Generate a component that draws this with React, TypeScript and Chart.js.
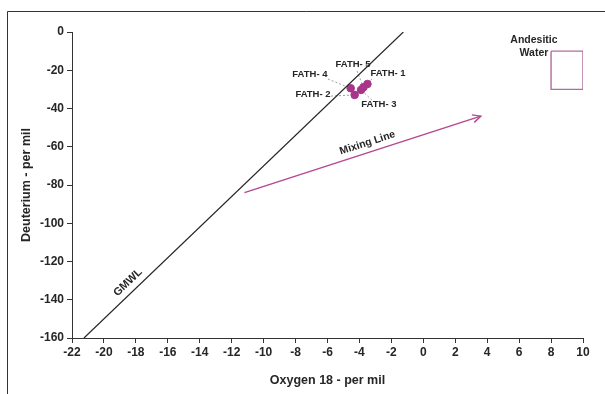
import React, { useEffect, useRef } from 'react';
import { Chart, registerables } from 'chart.js';

Chart.register(...registerables);

// ---- Data ----
const sampleNames = ['FATH- 1', 'FATH- 2', 'FATH- 3', 'FATH- 4', 'FATH- 5'];
const oxygen18 = [-3.5, -4.3, -3.9, -4.55, -3.75];
const deuterium = [-27.2, -32.9, -30.3, -29.4, -28.9];

// Global Meteoric Water Line end points
const gmwlX = [-21.25, -1.25];
const gmwlY = [-160, 0];

// Mixing line end points
const mixingX = [-11.2, 3.6];
const mixingY = [-84, -44];

// Andesitic water box
const andesiticX = [8, 10, 10, 8, 8];
const andesiticY = [-10, -10, -30, -30, -10];

// Axis ranges / ticks
const xMin = -22;
const xMax = 10;
const xStep = 2;
const yMin = -160;
const yMax = 0;
const yStep = 20;

// Label anchors (data coordinates) for sample annotations
const labelX = [-2.21, -6.91, -2.78, -7.1, -4.4];
const labelY = [-21.4, -32.4, -37.6, -22.0, -16.7];
const leaderX = [-3.22, -5.78, -3.22, -5.97, -4.15];
const leaderY = [-24.6, -33.5, -35.6, -24.6, -20.4];

const TEXT = '#262626';
const FONT = '"Liberation Sans", Arial, sans-serif';

const toPts = (xs: number[], ys: number[]) => xs.map((x, i) => ({ x, y: ys[i] }));

const annotationPlugin = {
  id: 'annotations',
  beforeDatasetsDraw(chart: any) {
    const { ctx, scales } = chart;
    const xs = scales.x;
    const ys = scales.y;
    ctx.save();
    ctx.strokeStyle = '#a0a0a0';
    ctx.lineWidth = 1;
    ctx.setLineDash([2, 2]);
    for (let i = 0; i < sampleNames.length; i++) {
      ctx.beginPath();
      ctx.moveTo(xs.getPixelForValue(leaderX[i]), ys.getPixelForValue(leaderY[i]));
      ctx.lineTo(xs.getPixelForValue(oxygen18[i]), ys.getPixelForValue(deuterium[i]));
      ctx.stroke();
    }
    ctx.restore();
  },
  afterDraw(chart: any) {
    const { ctx, scales, width, height } = chart;
    const xs = scales.x;
    const ys = scales.y;
    ctx.save();
    // outer frame
    ctx.strokeStyle = '#333';
    ctx.lineWidth = 1;
    ctx.setLineDash([]);
    ctx.beginPath();
    ctx.moveTo(7.5, height);
    ctx.lineTo(7.5, 11.5);
    ctx.lineTo(width, 11.5);
    ctx.stroke();

    // sample labels
    ctx.fillStyle = TEXT;
    ctx.font = `bold 9.5px ${FONT}`;
    ctx.textAlign = 'center';
    ctx.textBaseline = 'middle';
    for (let i = 0; i < sampleNames.length; i++) {
      ctx.fillText(sampleNames[i], xs.getPixelForValue(labelX[i]), ys.getPixelForValue(labelY[i]));
    }

    // Andesitic water label
    ctx.font = `bold 10.5px ${FONT}`;
    ctx.fillText('Andesitic', xs.getPixelForValue(6.93), ys.getPixelForValue(-4.4));
    ctx.fillText('Water', xs.getPixelForValue(6.93), ys.getPixelForValue(-11.2));

    // GMWL label rotated along line
    const g0x = xs.getPixelForValue(gmwlX[0]);
    const g0y = ys.getPixelForValue(gmwlY[0]);
    const g1x = xs.getPixelForValue(gmwlX[1]);
    const g1y = ys.getPixelForValue(gmwlY[1]);
    const gAng = Math.atan2(g1y - g0y, g1x - g0x);
    ctx.save();
    ctx.translate(xs.getPixelForValue(-18.5), ys.getPixelForValue(-131));
    ctx.rotate(gAng);
    ctx.font = `bold 11px ${FONT}`;
    ctx.fillText('GMWL', 0, 0);
    ctx.restore();

    // Mixing line label + arrow head
    const m0x = xs.getPixelForValue(mixingX[0]);
    const m0y = ys.getPixelForValue(mixingY[0]);
    const m1x = xs.getPixelForValue(mixingX[1]);
    const m1y = ys.getPixelForValue(mixingY[1]);
    const mAng = Math.atan2(m1y - m0y, m1x - m0x);
    ctx.save();
    ctx.translate(xs.getPixelForValue(-3.5), ys.getPixelForValue(-58));
    ctx.rotate(mAng);
    ctx.font = `bold 10.5px ${FONT}`;
    ctx.fillText('Mixing Line', 0, 0);
    ctx.restore();

    ctx.strokeStyle = '#b5468f';
    ctx.lineWidth = 1.4;
    const ah = 9;
    const spread = 0.45;
    ctx.beginPath();
    ctx.moveTo(m1x - ah * Math.cos(mAng - spread), m1y - ah * Math.sin(mAng - spread));
    ctx.lineTo(m1x, m1y);
    ctx.lineTo(m1x - ah * Math.cos(mAng + spread), m1y - ah * Math.sin(mAng + spread));
    ctx.stroke();
    ctx.restore();
  },
};

export default function App() {
  const canvasRef = useRef<HTMLCanvasElement | null>(null);

  useEffect(() => {
    if (!canvasRef.current) return;
    const chart = new Chart(canvasRef.current, {
      type: 'scatter',
      data: {
        datasets: [
          {
            type: 'line',
            data: toPts(gmwlX, gmwlY),
            borderColor: '#262626',
            borderWidth: 1.2,
            pointRadius: 0,
            fill: false,
          },
          {
            type: 'line',
            data: toPts(mixingX, mixingY),
            borderColor: '#b5468f',
            borderWidth: 1.4,
            pointRadius: 0,
            fill: false,
          },
          {
            type: 'line',
            data: toPts(andesiticX, andesiticY),
            borderColor: '#b56a9f',
            borderWidth: 1.4,
            pointRadius: 0,
            fill: false,
          },
          {
            type: 'scatter',
            data: toPts(oxygen18, deuterium),
            backgroundColor: '#a8358a',
            borderColor: '#a8358a',
            pointRadius: 3.8,
          },
        ] as any,
      },
      plugins: [annotationPlugin],
      options: {
        animation: false,
        responsive: true,
        maintainAspectRatio: false,
        layout: { padding: { top: 32, right: 22, left: 0, bottom: 0 } },
        plugins: { legend: { display: false }, tooltip: { enabled: false } },
        scales: {
          x: {
            type: 'linear',
            min: xMin,
            max: xMax,
            ticks: { stepSize: xStep, color: TEXT, font: { family: FONT, size: 12, weight: 'bold' }, padding: 2, maxRotation: 0 },
            grid: { drawOnChartArea: false, drawTicks: true, tickLength: 5, color: '#333' },
            border: { color: '#333', width: 1 },
            title: {
              display: true,
              text: 'Oxygen 18 - per mil',
              color: TEXT,
              font: { family: FONT, size: 12.5, weight: 'bold' },
              padding: { top: 0, bottom: 6 },
            },
            afterFit: (s: any) => {
              s.height = 56;
            },
          },
          y: {
            type: 'linear',
            min: yMin,
            max: yMax,
            ticks: { stepSize: yStep, color: TEXT, font: { family: FONT, size: 12, weight: 'bold' }, padding: 3 },
            grid: { drawOnChartArea: false, drawTicks: true, tickLength: 5, color: '#333' },
            border: { color: '#333', width: 1 },
            title: {
              display: true,
              text: 'Deuterium - per mil',
              color: TEXT,
              font: { family: FONT, size: 12.5, weight: 'bold' },
              padding: { top: 19, bottom: 0 },
            },
            afterFit: (s: any) => {
              s.width = 72;
            },
          },
        },
      } as any,
    });
    return () => chart.destroy();
  }, []);

  return (
    <div style={{ position: 'absolute', left: 0, top: 0, width: 605, height: 394, background: '#fff' }}>
      <canvas ref={canvasRef} />
    </div>
  );
}
